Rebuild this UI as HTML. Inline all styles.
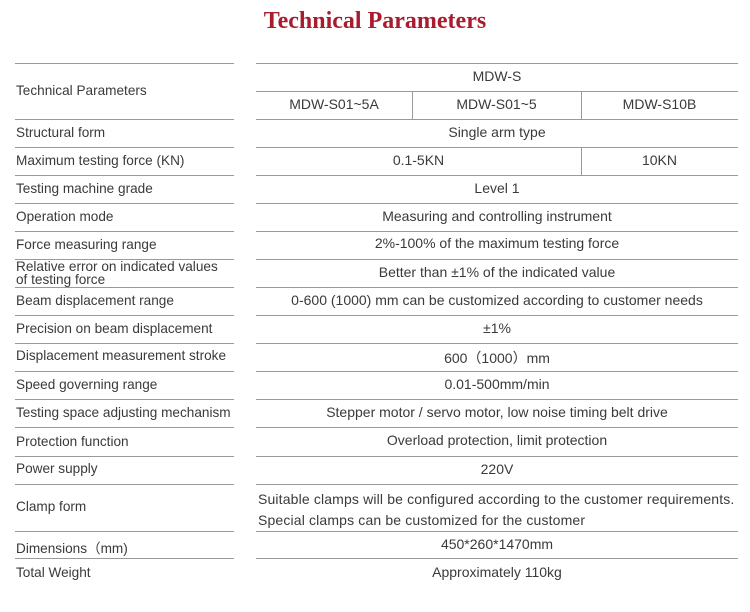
<!DOCTYPE html>
<html><head><meta charset="utf-8"><style>
body{margin:0;width:750px;height:612px;background:#fff;position:relative;overflow:hidden;font-family:"Liberation Sans",sans-serif;color:#3a3a3a;font-size:14px}
.t{position:absolute;left:0;top:8px;width:750px;text-align:center;font-family:"Liberation Serif",serif;font-weight:bold;font-size:24px;color:#a81c2e}
.h{position:absolute;height:1px;background:#9a9a9a}
.v{position:absolute;width:1px;background:#9a9a9a}
.l{position:absolute;left:16px;white-space:nowrap;font-size:13.6px}
.c{position:absolute;text-align:center;white-space:nowrap}
</style></head><body>
<div class="t">Technical Parameters</div>
<div class="h" style="left:15px;width:219px;top:63px"></div>
<div class="h" style="left:256px;width:482px;top:63px"></div>
<div class="h" style="left:256px;width:482px;top:91px"></div>
<div class="v" style="left:412px;top:91px;height:28px"></div>
<div class="v" style="left:581px;top:91px;height:28px"></div>
<div class="v" style="left:581px;top:147px;height:28px"></div>
<div id="lines"></div>
<script>
var ys=[119,147,175,203,231,259,287,315,343,371,399,427,456,484,531,558],h='';
ys.forEach(function(y){h+='<div class="h" style="left:15px;width:219px;top:'+y+'px"></div><div class="h" style="left:256px;width:482px;top:'+y+'px"></div>';});
document.getElementById('lines').innerHTML=h;
</script>
<div class="l" style="top:83px">Technical Parameters</div>
<div class="c" style="left:256px;width:482px;top:68px">MDW-S</div>
<div class="c" style="left:256px;width:156px;top:96px">MDW-S01~5A</div>
<div class="c" style="left:412px;width:169px;top:96px">MDW-S01~5</div>
<div class="c" style="left:581px;width:157px;top:96px">MDW-S10B</div>

<div class="l" style="top:125px">Structural form</div>
<div class="c" style="left:256px;width:482px;top:124px">Single arm type</div>
<div class="l" style="top:153px">Maximum testing force (KN)</div>
<div class="c" style="left:256px;width:325px;top:152px">0.1-5KN</div>
<div class="c" style="left:581px;width:157px;top:152px">10KN</div>
<div class="l" style="top:181px">Testing machine grade</div>
<div class="c" style="left:256px;width:482px;top:180px">Level 1</div>
<div class="l" style="top:209px">Operation mode</div>
<div class="c" style="left:256px;width:482px;top:208px">Measuring and controlling instrument</div>
<div class="l" style="top:237px">Force measuring range</div>
<div class="c" style="left:256px;width:482px;top:235px">2%-100% of the maximum testing force</div>
<div class="l" style="top:260px;line-height:13px">Relative error on indicated values<br>of testing force</div>
<div class="c" style="left:256px;width:482px;top:264px">Better than ±1% of the indicated value</div>
<div class="l" style="top:293px">Beam displacement range</div>
<div class="c" style="left:256px;width:482px;top:292px">0-600 (1000) mm can be customized according to customer needs</div>
<div class="l" style="top:321px">Precision on beam displacement</div>
<div class="c" style="left:256px;width:482px;top:320px">±1%</div>
<div class="l" style="top:348px">Displacement measurement stroke</div>
<div class="c" style="left:256px;width:482px;top:348px">600（1000）mm</div>
<div class="l" style="top:377px">Speed governing range</div>
<div class="c" style="left:256px;width:482px;top:376px">0.01-500mm/min</div>
<div class="l" style="top:405px">Testing space adjusting mechanism</div>
<div class="c" style="left:256px;width:482px;top:404px">Stepper motor / servo motor, low noise timing belt drive</div>
<div class="l" style="top:434px">Protection function</div>
<div class="c" style="left:256px;width:482px;top:432px">Overload protection, limit protection</div>
<div class="l" style="top:461px">Power supply</div>
<div class="c" style="left:256px;width:482px;top:461px">220V</div>
<div class="l" style="top:499px">Clamp form</div>
<div class="l" style="left:258px;top:489px;line-height:21px;font-size:14px;letter-spacing:0.15px">Suitable clamps will be configured according to the customer requirements.<br>Special clamps can be customized for the customer</div>
<div class="l" style="top:537px">Dimensions（mm)</div>
<div class="c" style="left:256px;width:482px;top:536px">450*260*1470mm</div>
<div class="l" style="top:565px">Total Weight</div>
<div class="c" style="left:256px;width:482px;top:564px">Approximately 110kg</div>
</body></html>
